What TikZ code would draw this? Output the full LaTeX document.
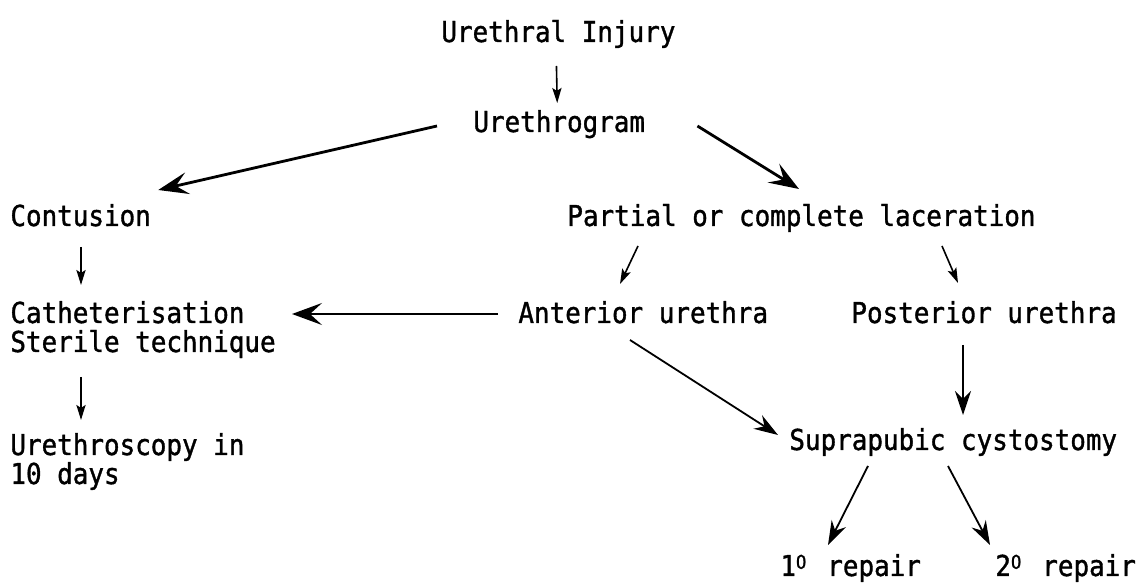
\documentclass[tikz,border=0pt]{standalone}
\usepackage{fontspec}
\setmainfont[FakeStretch=0.9,FakeBold=1.2]{DejaVu Sans Mono}
\usetikzlibrary{arrows.meta}
% el "o" elevado de 1o y 2o ocupa una casilla del tipo monoespaciado
\newcommand\supo{\makebox[7.85pt][l]{\raisebox{3.6pt}{\fontsize{9.5}{9.5}\selectfont O}}}

\begin{document}
\begin{tikzpicture}[x=0.5pt,y=-0.5pt,
  texto/.style={anchor=base west,inner sep=0pt,align=left,font=\fontsize{14.4}{14.5}\selectfont},
  flechita/.style={-{Stealth[length=7.5pt,width=4.6pt,inset=1.5pt]},line width=0.8pt},
  flecha/.style={-{Stealth[length=12pt,width=8pt,inset=4pt]},line width=0.9pt},
  flechota/.style={-{Stealth[length=15pt,width=11pt,inset=6pt]},line width=1.4pt}]
% Fijamos el tamano del dibujo (en pixeles de la figura original).
\useasboundingbox[fill=white] (0,0) rectangle (1142,587);

% Los textos, con su linea base (la ultima, si hay dos) en coordenadas fijas
\node[texto] (lesion) at (441,42) {Urethral Injury};
\node[texto] (grama) at (473,132) {Urethrogram};
\node[texto] (contusion) at (10,226) {Contusion};
\node[texto] (laceracion) at (567,226) {Partial or complete laceration};
\node[texto] (sonda) at (10,352) {Catheterisation\\Sterile technique};
\node[texto] (anterior) at (518,323) {Anterior urethra};
\node[texto] (posterior) at (851,323) {Posterior urethra};
\node[texto] (uretroscopia) at (10,484) {Urethroscopy in\\10 days};
\node[texto] (cistostomia) at (789,450) {Suprapubic cystostomy};
\node[texto] (primaria) at (780,576) {1\supo{} repair};
\node[texto] (secundaria) at (995,576) {2\supo{} repair};

% Flechas cortas
\draw[flechita] ([shift={(-2,24)}]lesion.base) -- ([shift={(-2,-29)}]grama.base);
\draw[flechita] ([shift={(71,21)}]contusion.base west) -- ([shift={(71,-67)}]sonda.base west);
\draw[flechita] ([shift={(71,20)}]laceracion.base west) -- ([shift={(102,-39)}]anterior.base west);
\draw[flechita] ([shift={(375,20)}]laceracion.base west) -- ([shift={(107,-40)}]posterior.base west);
\draw[flechita] ([shift={(71,25)}]sonda.base west) -- ([shift={(71,-64)}]uretroscopia.base west);

% Flechas largas, con punta mas grande
\draw[flechota] ([shift={(-36,-6)}]grama.base west) -- ([shift={(7,-36)}]contusion.base east);
\draw[flechota] ([shift={(52,-6)}]grama.base east) -- ([shift={(232,-37)}]laceracion.base west);
\draw[flechota,line width=0.8pt] ([shift={(-20,-9)}]anterior.base west) -- ([shift={(282,-38)}]sonda.base west);
\draw[flecha] ([shift={(112,17)}]anterior.base west) -- ([shift={(-11,-15)}]cistostomia.base west);
\draw[flecha] ([shift={(112,22)}]posterior.base west) -- ([shift={(174,-35)}]cistostomia.base west);
\draw[flecha] ([shift={(79,16)}]cistostomia.base west) -- ([shift={(48,-31)}]primaria.base west);
\draw[flecha] ([shift={(159,16)}]cistostomia.base west) -- ([shift={(-5,-31)}]secundaria.base west);
\end{tikzpicture}
\end{document}
